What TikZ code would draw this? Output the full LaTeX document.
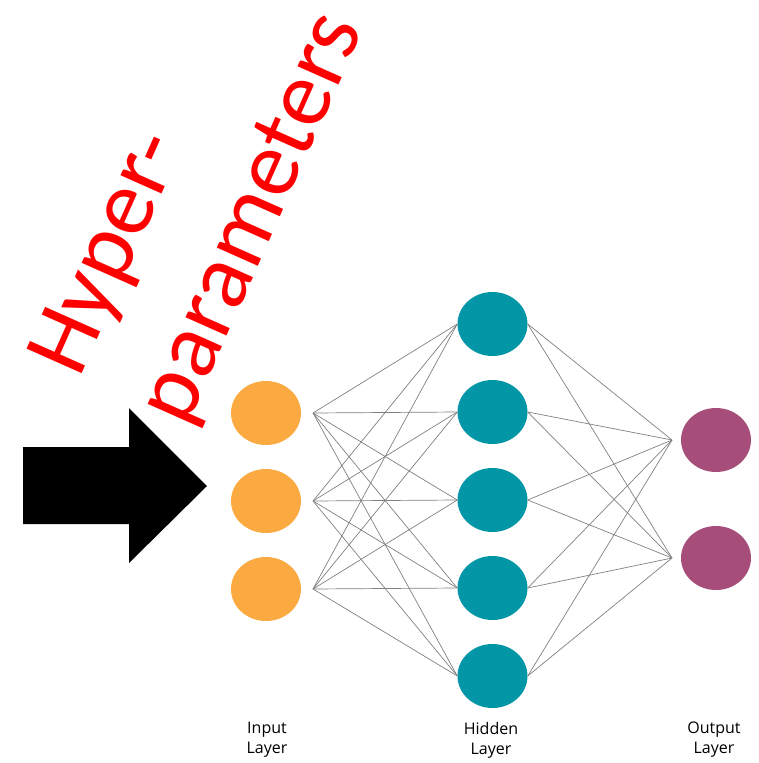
\documentclass[tikz,border=0pt]{standalone}
\usepackage{fontspec}
\setmainfont{Open Sans}
\newfontfamily\redfont{Carlito}
\usepackage{xcolor}
\usetikzlibrary{shapes.geometric}

\definecolor{inorange}{RGB}{251,169,65}
\definecolor{hidteal}{RGB}{3,150,166}
\definecolor{outplum}{RGB}{166,77,121}

\begin{document}
\begin{tikzpicture}[x=1pt,y=1pt,yscale=-1,xscale=1,
  neuron/.style={ellipse,minimum width=70pt,minimum height=64pt,inner sep=0pt},
  wire/.style={draw=gray,line width=0.7pt},
  layertext/.style={font=\fontsize{16}{20}\selectfont,align=center,inner sep=0pt},
  hypertext/.style={text=red,font=\redfont\fontsize{94}{110}\selectfont,inner sep=0pt,rotate=66,anchor=base west}]
\useasboundingbox (0,0) rectangle (759,763);

%Shape: big arrow
\fill (23,447) -- (129,447) -- (129,408) -- (207,486) -- (129,563) -- (129,524) -- (23,524) -- cycle;

% Input layer
\foreach \i in {1,2,3}{
  \node [neuron,fill=inorange] (in\i) at (266,{325+88*\i}) {};
  \coordinate (pin\i) at (313,{325+88*\i});
}
% Hidden layer
\foreach \j in {1,...,5}{
  \node [neuron,fill=hidteal] (hid\j) at (492.5,{236+88*\j}) {};
}
% Output layer
\foreach \k in {1,2}{
  \node [neuron,fill=outplum] (out\k) at (716,{322+118*\k}) {};
  \coordinate (pout\k) at (672,{322+118*\k});
}

% Wires
\foreach \i in {1,2,3}
  \foreach \j in {1,...,5}
    \draw [wire] (pin\i) -- (hid\j.west);
\foreach \j in {1,...,5}
  \foreach \k in {1,2}
    \draw [wire] (hid\j.east) -- (pout\k);

% Text Node
\node [layertext] (inlabel) at (267,740) {Input\\Layer};
% Text Node
\node [layertext] (hidlabel) at (491,740) {Hidden\\Layer};
% Text Node
\node [layertext] (outlabel) at (714,740) {Output\\Layer};

% Text Node
\node [hypertext] (hyper) at (79,380) {Hyper-};
% Text Node
\node [hypertext] (params) at ({80+0.914*116},{381+0.407*116}) {parameters};

\end{tikzpicture}
\end{document}
